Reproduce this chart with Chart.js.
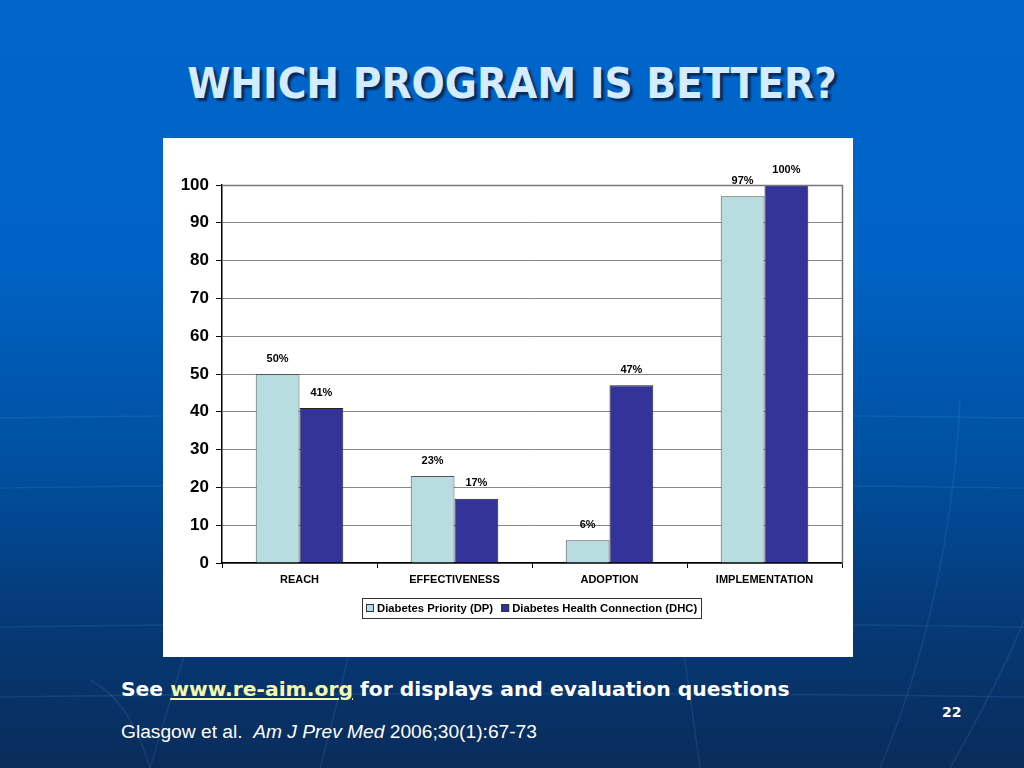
<!DOCTYPE html>
<html>
<head>
<meta charset="utf-8">
<script src="https://cdn.jsdelivr.net/npm/chart.js@4.4.1/dist/chart.umd.min.js"></script>
<style>
  html, body { margin: 0; padding: 0; }
  body {
    width: 1024px; height: 768px; overflow: hidden; position: relative;
    background: linear-gradient(to bottom, #0066cc 0%, #0062c4 35%, #0050a0 60%, #053a78 80%, #0a2c5a 100%);
    font-family: "DejaVu Sans", sans-serif;
  }
  #globe { position: absolute; left: 0; top: 0; }
  h1 {
    position: absolute; left: 0; width: 1024px; top: 58px; margin: 0;
    text-align: center; color: #d4ecff; font-size: 43.5px; font-weight: bold;
    font-family: "DejaVu Sans Condensed", "DejaVu Sans", sans-serif; font-stretch: condensed;
    text-shadow: 3px 3px 2px #0a2a5a;
  }
  #panel {
    position: absolute; left: 163px; top: 138px; width: 690px; height: 519px; background: #fff;
  }
  #see {
    position: absolute; left: 121px; top: 677px; color: #fff; font-weight: bold; font-size: 20.3px;
  }
  #see a { color: #f4f7b0; text-decoration: underline; }
  #ref {
    position: absolute; left: 121px; top: 721px; color: #fff; font-size: 19.2px;
    font-family: "Liberation Sans", Arial, sans-serif;
  }
  #page { position: absolute; left: 942px; top: 704px; color: #fff; font-weight: bold; font-size: 14px; }
</style>
</head>
<body>
<svg id="globe" width="1024" height="768">
  <g fill="none" stroke="#6fa8ff" stroke-opacity="0.13" stroke-width="1.5">
    <path d="M0 418 Q512 410 1024 418"/>
    <path d="M0 488 Q512 480 1024 488"/>
    <path d="M0 627 Q512 620 1024 627"/>
    <path d="M0 697 Q512 690 1024 697"/>
    <path d="M150 768 Q200 600 260 420"/>
    <path d="M320 768 Q360 620 380 500"/>
    <path d="M700 768 Q680 620 660 500"/>
    <path d="M880 768 Q950 600 960 400"/>
    <path d="M950 768 Q1000 680 1024 620"/>
    <path d="M90 680 Q130 700 150 768"/>
  </g>
</svg>
<h1>WHICH PROGRAM IS BETTER?</h1>
<div id="panel"><canvas id="myChart" width="690" height="519"></canvas></div>
<div id="see">See <a>www.re-aim.org</a> for displays and evaluation questions</div>
<div id="ref">Glasgow et al.&nbsp; <i>Am J Prev Med</i> 2006;30(1):67-73</div>
<div id="page">22</div>
<script>
const categories = ['REACH', 'EFFECTIVENESS', 'ADOPTION', 'IMPLEMENTATION'];
const dpValues = [50, 23, 6, 97];
const dhcValues = [41, 17, 47, 100];
const seriesNames = ['Diabetes Priority (DP)', 'Diabetes Health Connection (DHC)'];
const yTicks = [0, 10, 20, 30, 40, 50, 60, 70, 80, 90, 100];

const valueLabels = {
    id: 'valueLabels',
    afterDatasetsDraw(chart) {
        const ctx = chart.ctx;
        ctx.save();
        ctx.font = 'bold 11px "Liberation Sans", Arial, sans-serif';
        ctx.fillStyle = '#000';
        ctx.textAlign = 'center';
        ctx.textBaseline = 'bottom';
        chart.data.datasets.forEach((ds, i) => {
            chart.getDatasetMeta(i).data.forEach((bar, j) => {
                ctx.fillText(ds.data[j] + '%', bar.x, bar.y - 10);
            });
        });
        ctx.restore();
    }
};

// plot frame (top + right) and a boxed legend centred under the plot
const frame = {
    id: 'frame',
    afterDraw(chart) {
        const ctx = chart.ctx;
        const a = chart.chartArea;
        ctx.save();
        ctx.strokeStyle = '#777';
        ctx.lineWidth = 1.5;
        ctx.beginPath();
        ctx.moveTo(a.left, a.top + 0.5);
        ctx.lineTo(a.right + 0.5, a.top + 0.5);
        ctx.lineTo(a.right + 0.5, a.bottom);
        ctx.stroke();

        ctx.font = 'bold 11.3px "Liberation Sans", Arial, sans-serif';
        ctx.textBaseline = 'middle';
        ctx.textAlign = 'left';
        const box = 8, gapText = 3, gapItem = 8, pad = 4;
        const widths = seriesNames.map(n => ctx.measureText(n).width);
        let total = pad * 2;
        widths.forEach((w, i) => { total += box + gapText + w + (i ? gapItem : 0); });
        const cx = (a.left + a.right) / 2;
        let x = Math.round(cx - total / 2);
        const yTop = a.bottom + 35, h = 20, yMid = yTop + h / 2;
        ctx.strokeStyle = '#333';
        ctx.lineWidth = 1;
        ctx.strokeRect(x + 0.5, yTop + 0.5, Math.round(total), h);
        x += pad;
        chart.data.datasets.forEach((ds, i) => {
            if (i) x += gapItem;
            ctx.fillStyle = ds.backgroundColor;
            ctx.fillRect(x, yMid - box / 2, box, box);
            ctx.strokeStyle = '#333';
            ctx.strokeRect(x + 0.5, yMid - box / 2 + 0.5, box - 1, box - 1);
            x += box + gapText;
            ctx.fillStyle = '#000';
            ctx.fillText(seriesNames[i], x, yMid + 1);
            x += widths[i];
        });
        ctx.restore();
    }
};

new Chart(document.getElementById('myChart'), {
    type: 'bar',
    data: {
        labels: categories,
        datasets: [{
            label: seriesNames[0],
            data: dpValues,
            backgroundColor: '#b8dde1',
            borderColor: '#555',
            borderWidth: 1,
            borderSkipped: 'bottom'
        }, {
            label: seriesNames[1],
            data: dhcValues,
            backgroundColor: '#333399',
            borderColor: '#222',
            borderWidth: 1,
            borderSkipped: 'bottom'
        }]
    },
    options: {
        responsive: false,
        animation: false,
        datasets: { bar: { categoryPercentage: 0.565, barPercentage: 1 } },
        layout: { padding: { left: 0, right: 11, top: 47, bottom: 66 } },
        scales: {
            y: {
                min: 0,
                max: 100,
                afterBuildTicks: axis => { axis.ticks = yTicks.map(v => ({ value: v })); },
                afterFit: axis => { axis.width = 59; },
                ticks: {
                    color: '#000',
                    padding: 7,
                    font: { family: '"Liberation Sans", Arial, sans-serif', size: 17, weight: 'bold' }
                },
                grid: { color: '#888', tickLength: 6, tickColor: '#000' },
                border: { color: '#000', width: 1.5 }
            },
            x: {
                afterFit: axis => { axis.height = 28; },
                ticks: {
                    color: '#000',
                    padding: 5,
                    font: { family: '"Liberation Sans", Arial, sans-serif', size: 11, weight: 'bold' }
                },
                grid: { drawOnChartArea: false, tickLength: 5, tickColor: '#000' },
                border: { color: '#000', width: 1.5 }
            }
        },
        plugins: {
            legend: { display: false },
            tooltip: { enabled: false }
        }
    },
    plugins: [valueLabels, frame]
});
</script>
</body>
</html>
